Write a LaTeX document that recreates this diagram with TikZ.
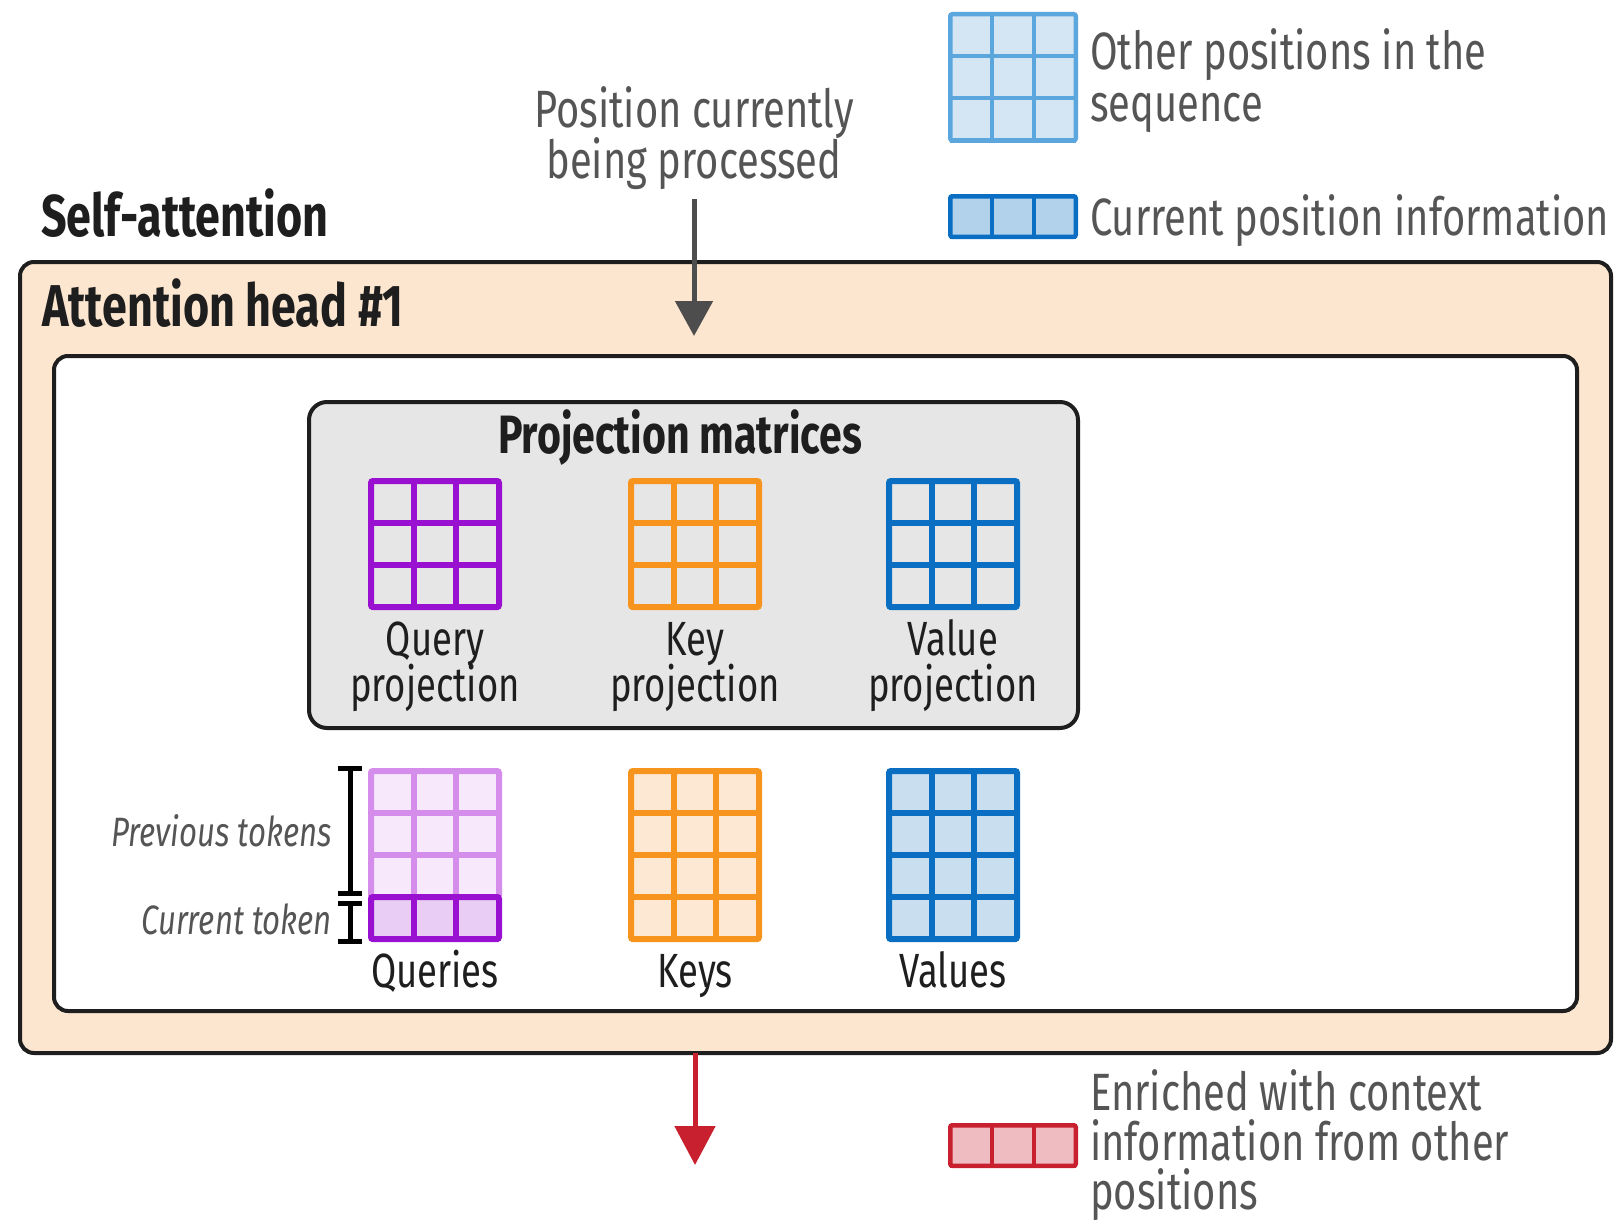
\documentclass[tikz,border=0pt]{standalone}
\usepackage{fontspec}
\setmainfont{Fira Sans}[FakeStretch=0.76]
\usetikzlibrary{arrows.meta,calc}

\definecolor{peach}{HTML}{FCE6CF}
\definecolor{panelgray}{HTML}{E6E6E6}
\definecolor{qpurple}{HTML}{9A10D0}
\definecolor{qlight}{HTML}{D58DEC}
\definecolor{qlightfill}{HTML}{F7E8FC}
\definecolor{qfill}{HTML}{E9CDF4}
\definecolor{korange}{HTML}{F7941D}
\definecolor{kfill}{HTML}{FDE8D3}
\definecolor{vblue}{HTML}{0A6FC2}
\definecolor{vfill}{HTML}{C9DFF0}
\definecolor{legblue}{HTML}{5BA7DD}
\definecolor{legbluefill}{HTML}{D4E6F4}
\definecolor{curfill}{HTML}{B2D2EC}
\definecolor{outred}{HTML}{C9202F}
\definecolor{outredfill}{HTML}{EEBCC1}
\definecolor{arrowgray}{HTML}{4D4D4D}
\definecolor{inkgray}{HTML}{555555}
\definecolor{ink}{HTML}{1E1E1E}

\tikzset{
  panel/.style={draw=ink, line width=4pt, rounded corners=14pt, anchor=north west,
    inner sep=0pt, outer sep=0pt},
  gridbox/.style={rounded corners=2pt, line width=6pt, inner sep=0pt, outer sep=0pt},
  gridline/.style={line width=6pt},
  titletext/.style={font=\fontsize{59}{59}\selectfont\bfseries, text=ink, inner sep=0pt},
  paneltitle/.style={font=\fontsize{54}{54}\selectfont\bfseries, text=ink, inner sep=0pt},
  labeltext/.style={font=\fontsize{48}{48}\selectfont, text=ink, inner sep=0pt},
  notetext/.style={font=\fontsize{52.5}{52.5}\selectfont, text=inkgray, inner sep=0pt},
  sidetext/.style={font=\fontsize{41}{41}\selectfont\itshape, text=inkgray, inner sep=0pt},
  inarrow/.style={draw=arrowgray, line width=5pt, -{Triangle[width=37pt,length=35pt]}},
  outarrow/.style={draw=outred, line width=5pt, -{Triangle[width=40pt,length=39pt]}},
  bracket/.style={draw=black, line width=5pt},
}

% #1 name, #2,#3 north-west corner of the outline, #4 width, #5 rows,
% #6 row height, #7 line style, #8 fill colour; always three columns
\newcommand\mgrid[8]{%
  \node[gridbox, #7, fill=#8, minimum width=#4pt, minimum height=#5*#6pt,
        anchor=north west] (#1) at (#2,#3) {};
  \foreach \k in {1,2}
    \draw[gridline, #7] ($(#1.north west)!\k/3!(#1.north east)$)
                     -- ($(#1.south west)!\k/3!(#1.south east)$);
  \foreach \k in {1,...,#5}
    \draw[gridline, #7] ($(#1.north west)!\k/#5!(#1.south west)$)
                     -- ($(#1.north east)!\k/#5!(#1.south east)$);
}

\begin{document}
\begin{tikzpicture}[x=1pt, y=-1pt]
\useasboundingbox (0,0) rectangle (1616,1223);
\fill[white] (0,0) rectangle (1616,1223);

% legend
\mgrid{legother}{950.25}{14.25}{125.5}{3}{42}{draw=legblue, line width=4.5pt}{legbluefill}
\node[notetext, anchor=base west] (legothera) at (1090,70) {Other positions in the};
\node[notetext, anchor=base west] (legotherb) at (1090,121) {sequence};
\mgrid{legcur}{950.25}{196.25}{125.5}{1}{40.5}{draw=vblue, line width=4.5pt}{curfill}
\node[notetext, anchor=base west] (legcurt) at (1090,235) {Current position information};

% incoming position
\node[notetext, anchor=base] (posa) at (694,127) {Position currently};
\node[notetext, anchor=base] (posb) at (694,178) {being processed};

\node[titletext, anchor=base west] (selfatt) at (41,236) {Self-attention};

% attention head
\node[panel, fill=peach, minimum width=1591pt, minimum height=791pt] (head) at (20,262) {};
\node[titletext, anchor=base west] (headt) at (42,326) {Attention head \#1};
\node[panel, fill=white, minimum width=1523pt, minimum height=655pt] (inner) at (54,356) {};

\coordinate (headin) at (695,336);
\draw[inarrow, shorten <=10pt] (posb.south) -- (posb.south |- headin);

% projection matrices
\node[panel, fill=panelgray, rounded corners=18pt, minimum width=769pt, minimum height=326pt] (proj) at (309,402) {};
\node[paneltitle, anchor=base] (projt) at (680,453) {Projection matrices};

\mgrid{qp}{371}{481}{128}{3}{42}{draw=qpurple}{panelgray}
\mgrid{kp}{631}{481}{128}{3}{42}{draw=korange}{panelgray}
\mgrid{vp}{889}{481}{128}{3}{42}{draw=vblue}{panelgray}
\node[labeltext, anchor=base] (qpa) at (qp.south |- 0,655) {Query};
\node[labeltext, anchor=base] (qpb) at (qp.south |- 0,701) {projection};
\node[labeltext, anchor=base] (kpa) at (kp.south |- 0,655) {Key};
\node[labeltext, anchor=base] (kpb) at (kp.south |- 0,701) {projection};
\node[labeltext, anchor=base] (vpa) at (vp.south |- 0,655) {Value};
\node[labeltext, anchor=base] (vpb) at (vp.south |- 0,701) {projection};

% queries, keys, values
\mgrid{qprev}{371}{771}{128}{3}{42}{draw=qlight}{qlightfill}
\mgrid{qcur}{371}{897}{128}{1}{42}{draw=qpurple}{qfill}
\mgrid{keys}{631}{771}{128}{4}{42}{draw=korange}{kfill}
\mgrid{vals}{889}{771}{128}{4}{42}{draw=vblue}{vfill}
\node[labeltext, anchor=base] (qt) at (qcur.south |- 0,987) {Queries};
\node[labeltext, anchor=base] (kt) at (keys.south |- 0,987) {Keys};
\node[labeltext, anchor=base] (vt) at (vals.south |- 0,987) {Values};

% token brackets
\coordinate (brA) at (350,768);
\coordinate (brB) at (350,893);
\coordinate (brC) at (350,903);
\coordinate (brD) at (350,941);
\draw[bracket] ([xshift=-12pt]brA) -- ([xshift=12pt]brA) (brA) -- (brB)
               ([xshift=-12pt]brB) -- ([xshift=12pt]brB);
\draw[bracket] ([xshift=-12pt]brC) -- ([xshift=12pt]brC) (brC) -- (brD)
               ([xshift=-12pt]brD) -- ([xshift=12pt]brD);
\node[sidetext, anchor=base east] (prevt) at (332,846) {Previous tokens};
\node[sidetext, anchor=base east] (curt) at (332,934) {Current token};

% output
\coordinate (outend) at (695,1165);
\draw[outarrow] (head.south -| outend) -- (outend);
\mgrid{legout}{950.25}{1125.25}{125.5}{1}{40.5}{draw=outred, line width=4.5pt}{outredfill}
\node[notetext, anchor=base west] (legouta) at (1090,1110) {Enriched with context};
\node[notetext, anchor=base west] (legoutb) at (1090,1160) {information from other};
\node[notetext, anchor=base west] (legoutc) at (1090,1209) {positions};
\end{tikzpicture}
\end{document}
